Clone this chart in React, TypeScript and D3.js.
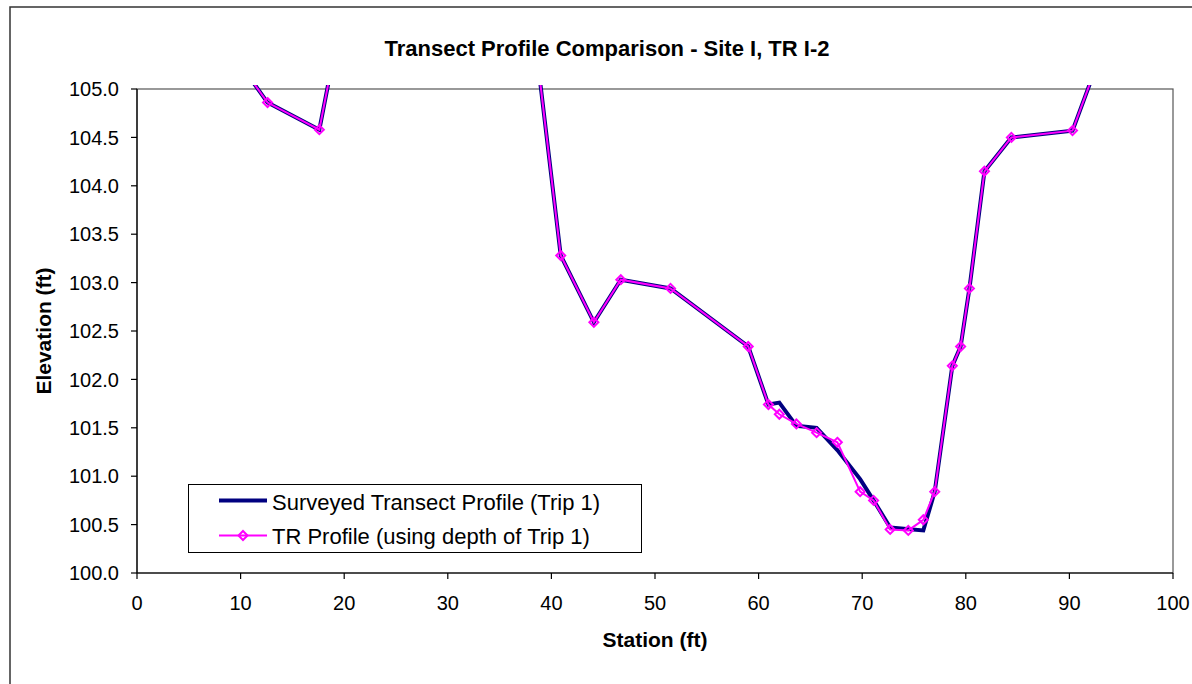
import React from "react";
import * as d3 from "d3";

// ---- Data ----
const trStations = [8.0, 12.6, 17.6, 20.0, 38.0, 40.9, 44.1, 46.7, 51.5, 59.0, 60.95, 62.0, 63.65, 65.6, 67.6, 69.8, 71.1, 72.7, 74.45, 75.9, 77.0, 78.7, 79.5, 80.35, 81.8, 84.4, 90.3, 95.0];
const trElevations = [105.55, 104.86, 104.58, 105.9, 105.9, 103.28, 102.59, 103.03, 102.94, 102.34, 101.74, 101.64, 101.54, 101.45, 101.35, 100.84, 100.75, 100.45, 100.44, 100.55, 100.84, 102.14, 102.34, 102.94, 104.15, 104.5, 104.57, 105.93];

const surveyedStations = [8.0, 12.6, 17.6, 20.0, 38.0, 40.9, 44.1, 46.7, 51.5, 59.0, 60.95, 62.0, 63.65, 65.6, 67.6, 69.8, 71.1, 72.7, 75.9, 77.0, 78.7, 79.5, 80.35, 81.8, 84.4, 90.3, 95.0];
const surveyedElevations = [105.55, 104.86, 104.58, 105.9, 105.9, 103.28, 102.59, 103.03, 102.94, 102.34, 101.74, 101.76, 101.52, 101.5, 101.27, 100.97, 100.75, 100.47, 100.44, 100.84, 102.14, 102.34, 102.94, 104.15, 104.5, 104.57, 105.93];

const xTicks = [0, 10, 20, 30, 40, 50, 60, 70, 80, 90, 100];
const yTicks = [100.0, 100.5, 101.0, 101.5, 102.0, 102.5, 103.0, 103.5, 104.0, 104.5, 105.0];

const chartTitle = "Transect Profile Comparison - Site I, TR I-2";
const xTitle = "Station (ft)";
const yTitle = "Elevation (ft)";
const seriesNames = ["Surveyed Transect Profile (Trip 1)", "TR Profile (using depth of Trip 1)"];

const FONT = "'Liberation Sans', Arial, Helvetica, sans-serif";

export default function App() {
  const left = 137, right = 1173, top = 89, bottom = 573;
  const x = d3.scaleLinear().domain([0, 100]).range([left, right]);
  const y = d3.scaleLinear().domain([100, 105]).range([bottom, top]);

  const line = d3.line<[number, number]>().x((d) => x(d[0])).y((d) => y(d[1]));
  const surveyed: [number, number][] = surveyedStations.map((s, i) => [s, surveyedElevations[i]]);
  const tr: [number, number][] = trStations.map((s, i) => [s, trElevations[i]]);

  const diamond = (cx: number, cy: number, r: number) =>
    `M${cx},${cy - r}L${cx + r},${cy}L${cx},${cy + r}L${cx - r},${cy}Z`;

  return (
    <svg
      width={1192}
      height={684}
      style={{ position: "absolute", left: 0, top: 0, background: "#fff" }}
      fontFamily={FONT}
    >
      <defs>
        <clipPath id="plotClip">
          <rect x={left} y={top - 4} width={right - left} height={bottom - top + 4} />
        </clipPath>
      </defs>
      <rect x={0} y={0} width={1192} height={684} fill="#fff" />
      {/* outer chart border */}
      <rect x={10} y={7} width={1220} height={720} fill="none" stroke="#333" strokeWidth={1.5} />

      {/* title */}
      <text x={607} y={56} textAnchor="middle" fontSize={22} fontWeight="bold" fill="#000">
        {chartTitle}
      </text>

      {/* plot area border */}
      <rect x={left} y={top} width={right - left} height={bottom - top} fill="#fff" stroke="#555" strokeWidth={1.2} />

      {/* y axis */}
      <line x1={left} x2={left} y1={top} y2={bottom} stroke="#000" strokeWidth={1.2} />
      {yTicks.map((t) => (
        <g key={"y" + t}>
          <line x1={left - 6} x2={left} y1={y(t)} y2={y(t)} stroke="#000" strokeWidth={1.2} />
          <text x={119} y={y(t)} dy="0.36em" textAnchor="end" fontSize={20} fill="#000">
            {d3.format(".1f")(t)}
          </text>
        </g>
      ))}

      {/* x axis */}
      <line x1={left} x2={right} y1={bottom} y2={bottom} stroke="#000" strokeWidth={1.2} />
      {xTicks.map((t) => (
        <g key={"x" + t}>
          <line x1={x(t)} x2={x(t)} y1={bottom} y2={bottom + 6} stroke="#000" strokeWidth={1.2} />
          <text x={x(t)} y={610} textAnchor="middle" fontSize={20} fill="#000">
            {t}
          </text>
        </g>
      ))}

      {/* axis titles */}
      <text x={655} y={647} textAnchor="middle" fontSize={21} fontWeight="bold" fill="#000">
        {xTitle}
      </text>
      <text
        transform={`translate(51, ${(top + bottom) / 2}) rotate(-90)`}
        textAnchor="middle"
        fontSize={21}
        fontWeight="bold"
        fill="#000"
      >
        {yTitle}
      </text>

      {/* series */}
      <g clipPath="url(#plotClip)">
        <path d={line(surveyed) || ""} fill="none" stroke="#000080" strokeWidth={4} strokeLinejoin="miter" />
        <path d={line(tr) || ""} fill="none" stroke="#FF00FF" strokeWidth={2} />
        {tr.map((d, i) => (
          <path
            key={"m" + i}
            d={diamond(x(d[0]), y(d[1]), 4.5)}
            fill="none"
            stroke="#FF00FF"
            strokeWidth={2}
          />
        ))}
      </g>

      {/* legend */}
      <rect x={188.5} y={484.5} width={453} height={68} fill="#fff" stroke="#000" strokeWidth={1} />
      <line x1={219} x2={267} y1={500.5} y2={500.5} stroke="#000080" strokeWidth={4} />
      <text x={272} y={510} fontSize={22} fill="#000">
        {seriesNames[0]}
      </text>
      <line x1={219} x2={267} y1={535.5} y2={535.5} stroke="#FF00FF" strokeWidth={2} />
      <path d={diamond(243, 535.5, 4.5)} fill="none" stroke="#FF00FF" strokeWidth={2} />
      <text x={272} y={544} fontSize={22} fill="#000">
        {seriesNames[1]}
      </text>
    </svg>
  );
}
